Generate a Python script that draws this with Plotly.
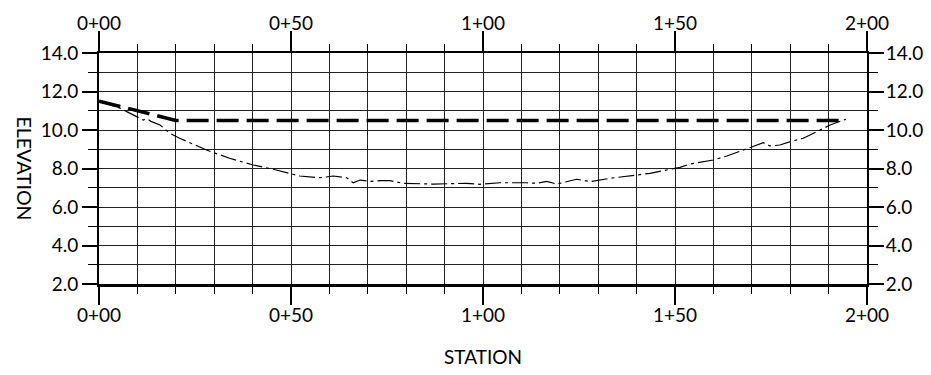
import plotly.graph_objects as go

# Design (proposed) grade line
design_station = [0, 20, 194.5]
design_elev = [11.5, 10.5, 10.5]

# Existing ground profile
ground_station = [0, 5.5, 11.5, 12.5, 13.5, 15.9, 18.5, 21, 28, 34, 40.2, 45.4, 52.3, 57.6, 61, 64.5,
                  66.2, 68, 70.6, 73.2, 75.8, 79.2, 87, 95.7, 99.2, 104.4, 111.4, 114, 116.6, 119.2,
                  124.4, 127.9, 133.1, 143.5, 150, 151.3, 153.9, 160, 163.5, 168.7, 173, 174.7,
                  177.3, 180.8, 183.4, 186.9, 190.4, 194.5]
ground_elev = [11.5, 11.13, 10.52, 10.58, 10.45, 10.26, 9.83, 9.57, 8.96, 8.53, 8.18, 7.96, 7.61, 7.52,
               7.61, 7.52, 7.26, 7.4, 7.33, 7.37, 7.37, 7.23, 7.19, 7.23, 7.18, 7.26, 7.26, 7.23, 7.33,
               7.19, 7.44, 7.32, 7.49, 7.75, 8.01, 8.06, 8.23, 8.44, 8.65, 9.05, 9.34, 9.17, 9.22, 9.44,
               9.57, 9.91, 10.26, 10.56]

x_tickvals = [0, 50, 100, 150, 200]
x_ticktext = ["0+00", "0+50", "1+00", "1+50", "2+00"]
x_minor = list(range(0, 201, 10))
y_tickvals = [2, 4, 6, 8, 10, 12, 14]
y_minor = list(range(2, 15, 1))

FONT = "Lato"
GRID = "#222222"

fig = go.Figure()
fig.add_trace(go.Scatter(x=ground_station, y=ground_elev, mode="lines", xaxis="x2", yaxis="y2",
                         line=dict(color="black", width=1.2, dash="16px,4px,3px,4px"),
                         hoverinfo="skip", showlegend=False))
fig.add_trace(go.Scatter(x=design_station, y=design_elev, mode="lines", xaxis="x", yaxis="y",
                         line=dict(color="black", width=3.5, dash="22px,8px"),
                         hoverinfo="skip", showlegend=False))

xcommon = dict(range=[0, 200], tickmode="array", tickvals=x_tickvals, ticktext=x_ticktext,
               ticks="outside", tickcolor="black", tickwidth=1.5, automargin=False,
               showgrid=True, gridcolor=GRID, gridwidth=1, zeroline=False,
               tickfont=dict(family=FONT, size=19, color="black"),
               minor=dict(tickmode="array", tickvals=x_minor, ticks="outside", ticklen=7,
                          tickcolor="black", tickwidth=1, showgrid=True, gridcolor=GRID, gridwidth=1))
ycommon = dict(range=[2, 14], tickmode="array", tickvals=y_tickvals, tickformat=".1f",
               ticks="outside", ticklen=15, tickcolor="black", tickwidth=1.5, automargin=False,
               showgrid=True, gridcolor=GRID, gridwidth=1, zeroline=False,
               tickfont=dict(family=FONT, size=19, color="black"),
               minor=dict(tickmode="array", tickvals=y_minor, ticks="outside", ticklen=9,
                          tickcolor="black", tickwidth=1, showgrid=True, gridcolor=GRID, gridwidth=1))

fig.update_layout(
    width=923, height=359,
    margin=dict(l=91, r=64, t=45, b=83, autoexpand=False),
    paper_bgcolor="white", plot_bgcolor="white",
    xaxis=dict(**xcommon, side="bottom", ticklen=18, ticklabelstandoff=-6,
               showline=True, linecolor="black", linewidth=2.5),
    xaxis2=dict(**xcommon, side="top", overlaying="x", ticklen=20, ticklabelstandoff=-6,
                showline=True, linecolor="black", linewidth=1.5),
    yaxis=dict(**ycommon, side="left", showline=True, linecolor="black", linewidth=2),
    yaxis2=dict(**ycommon, side="right", overlaying="y", ticklabelstandoff=-2,
                showline=True, linecolor="black", linewidth=2),
    annotations=[
        dict(text="ELEVATION", xref="paper", yref="paper", x=0, y=0.5, xshift=-75,
             textangle=90, showarrow=False, font=dict(family=FONT, size=19.5, color="black"),
             xanchor="center", yanchor="middle"),
        dict(text="STATION", xref="paper", yref="paper", x=0.5, y=0, yshift=-72,
             showarrow=False, font=dict(family=FONT, size=19, color="black"),
             xanchor="center", yanchor="middle"),
    ],
)

fig.write_html("out.html")
